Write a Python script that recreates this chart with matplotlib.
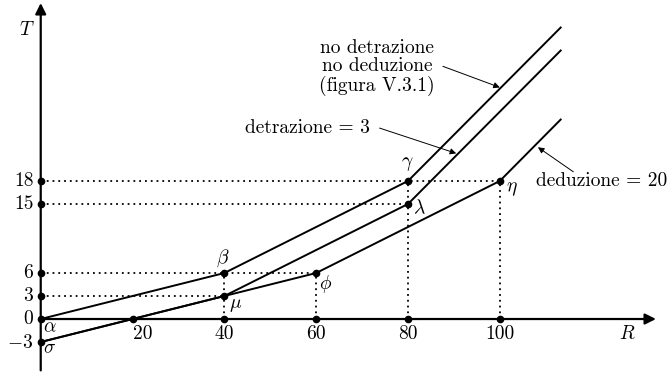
import matplotlib
matplotlib.use("Agg")
import matplotlib.pyplot as plt

plt.rcParams["mathtext.fontset"] = "cm"

# ── Data ─────────────────────────────────────────────────────────────────────
base_R = [0, 40, 80, 113.4]          # no detrazione / no deduzione
base_T = [0, 6, 18, 38.1]
detr_R = [0, 40, 80, 113.4]          # detrazione = 3
detr_T = [-3, 3, 15, 35.1]
dedu_R = [0, 20, 60, 100, 113.4]     # deduzione = 20
dedu_T = [-3, 0, 6, 18, 26.1]

x_ticks = [20, 40, 60, 80, 100]
y_ticks = [18, 15, 6, 3, 0, -3]

# named points: (R, T, label)
points = [
    (40, 6, r"$\beta$"),
    (40, 3, r"$\mu$"),
    (60, 6, r"$\phi$"),
    (80, 18, r"$\gamma$"),
    (80, 15, r"$\lambda$"),
    (100, 18, r"$\eta$"),
]

# dotted guides: horizontal (T, R end), vertical (R, T end)
h_guides = [(18, 100), (15, 80), (6, 60), (3, 40)]
v_guides = [(40, 6), (60, 6), (80, 18), (100, 18)]

# ── Figure ───────────────────────────────────────────────────────────────────
fig = plt.figure(figsize=(6.72, 3.73), dpi=100)
ax = fig.add_axes([0, 0, 1, 1])
ax.set_xlim(-8.87, 137.5)
ax.set_ylim(-7.04, 41.6)
ax.axis("off")

K = "black"
FS = 14
RM = dict(family="cmr10", fontsize=FS)

# axes with arrows
ax.annotate("", xy=(134, 0), xytext=(0, 0),
            arrowprops=dict(arrowstyle="-|>", lw=1.6, color=K, mutation_scale=16,
                            shrinkA=0, shrinkB=0))
ax.annotate("", xy=(0, 41.2), xytext=(0, -6.7),
            arrowprops=dict(arrowstyle="-|>", lw=1.6, color=K, mutation_scale=16,
                            shrinkA=0, shrinkB=0))
ax.text(-3.0, 37.7, r"$T$", fontsize=FS, ha="center", va="center")
ax.text(127.7, -1.9, r"$R$", fontsize=FS, ha="center", va="center")

# guides
for t, r in h_guides:
    ax.plot([0, r], [t, t], ls=(0, (1, 2.2)), lw=1.3, color=K)
for r, t in v_guides:
    ax.plot([r, r], [0, t], ls=(0, (1, 2.2)), lw=1.3, color=K)

# curves
for R, T in [(base_R, base_T), (detr_R, detr_T), (dedu_R, dedu_T)]:
    ax.plot(R, T, color=K, lw=1.4, solid_capstyle="butt")

# tick dots and labels
ax.plot([0] * len(y_ticks), y_ticks, "o", color=K, ms=4.5)
ax.plot(x_ticks, [0] * len(x_ticks), "o", color=K, ms=4.5)
for t in y_ticks:
    if t < 0:
        ax.text(-1.6, t, r"$-3$", fontsize=FS, ha="right", va="center")
    else:
        ax.text(-1.6, t, str(t), ha="right", va="center", **RM)
for r in x_ticks:
    if r == 20:
        ax.text(r + 0.1, -2.0, "20", ha="left", va="center", **RM)
    else:
        ax.text(r, -2.0, str(r), ha="center", va="center", **RM)

# origin labels
ax.text(0.6, -1.0, r"$\alpha$", fontsize=FS, ha="left", va="center")
ax.text(0.4, -3.8, r"$\sigma$", fontsize=FS, ha="left", va="center")

# named points
offsets = {
    r"$\beta$": (-0.3, 1.9),
    r"$\mu$": (2.5, -1.1),
    r"$\phi$": (2.0, -1.4),
    r"$\gamma$": (-0.1, 2.3),
    r"$\lambda$": (2.5, -0.5),
    r"$\eta$": (2.6, -1.0),
}
for r, t, lab in points:
    ax.plot(r, t, "o", color=K, ms=4.5)
    dx, dy = offsets[lab]
    ax.text(r + dx, t + dy, lab, fontsize=FS, ha="center", va="center")

# annotations
ax.text(73.3, 35.4, "no detrazione", ha="center", va="center", **RM)
ax.text(73.3, 32.95, "no deduzione", ha="center", va="center", **RM)
ax.text(73.3, 30.45, "(figura V.3.1)", ha="center", va="center", **RM)
ax.annotate("", xy=(100.0, 30.2), xytext=(87.6, 32.95),
            arrowprops=dict(arrowstyle="-|>", lw=0.7, color=K, mutation_scale=9,
                            shrinkA=0, shrinkB=0))

ax.text(58.0, 24.9, "detrazione = 3", ha="center", va="center", **RM)
ax.annotate("", xy=(90.5, 21.6), xytext=(73.8, 24.9),
            arrowprops=dict(arrowstyle="-|>", lw=0.7, color=K, mutation_scale=9,
                            shrinkA=0, shrinkB=0))

ax.text(107.8, 18.0, "deduzione = 20", ha="left", va="center", **RM)
ax.annotate("", xy=(108.3, 22.4), xytext=(116.0, 19.2),
            arrowprops=dict(arrowstyle="-|>", lw=0.7, color=K, mutation_scale=9,
                            shrinkA=0, shrinkB=0))

fig.savefig("out.png", dpi=100, facecolor="white")
